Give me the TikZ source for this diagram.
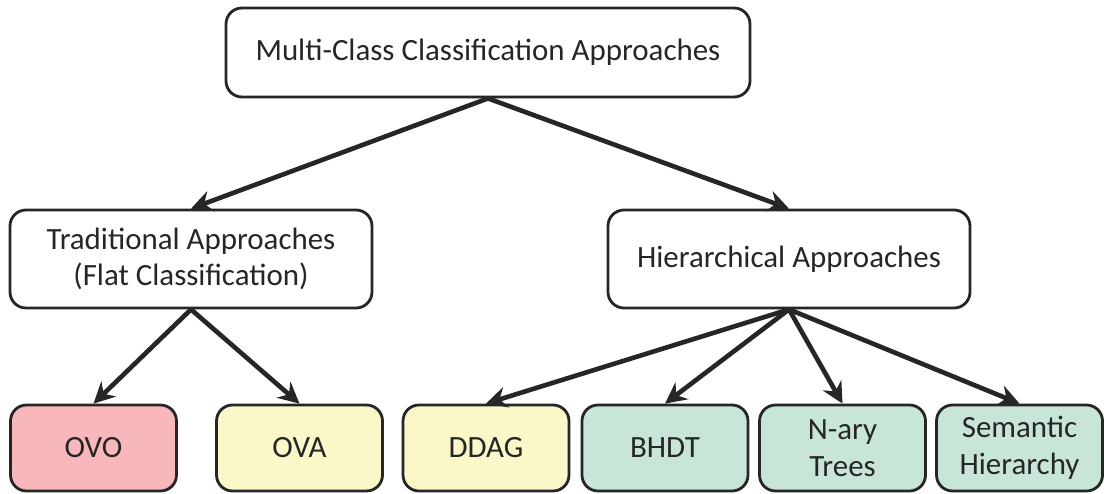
\documentclass[tikz,border=0pt]{standalone}
\usepackage{fontspec}
\setmainfont{Carlito}
\usetikzlibrary{arrows.meta, positioning}

\begin{document}
\begin{tikzpicture}[
    >={Stealth[length=15pt, width=15pt, inset=5pt]},
    box/.style={draw=black!85, line width=2pt, rounded corners=0.4cm,
                align=center, font=\fontsize{22}{26}\selectfont,
                text=black!85, fill=white, inner sep=2pt},
    upper/.style={box, minimum width=9.05cm, minimum height=2.45cm},
    leaf/.style={box, minimum width=4.15cm, minimum height=2.15cm},
    arr/.style={->, line width=3.3pt, draw=black!85},
]
% ---- Leaf colours by family ----
\definecolor{cpair}{HTML}{F8B8BB}   % one-vs-one
\definecolor{cflat}{HTML}{FAF7C8}   % one-vs-all / DAG
\definecolor{chier}{HTML}{C8E6D8}   % tree-based
\useasboundingbox (0,0) rectangle (27.6,-12.325);
% ---- Root and the two families ----
\node[box, minimum width=13.1cm, minimum height=2.225cm] (root) at (12.2, -1.3125)
    {Multi-Class Classification Approaches};
\node[upper] (trad) at (4.775, -6.475) {Traditional Approaches\\(Flat Classification)};
\node[upper] (hier) at (19.725, -6.475) {Hierarchical Approaches};
% ---- Leaves ----
\node[leaf, fill=cpair] (ovo)  at (2.3375, -11.2)  {OVO};
\node[leaf, fill=cflat] (ova)  at (7.4875, -11.2)  {OVA};
\node[leaf, fill=cflat] (ddag) at (12.15, -11.2)   {DDAG};
\node[leaf, fill=chier] (bhdt) at (16.625, -11.2)  {BHDT};
\node[leaf, fill=chier] (nary) at (21.0625, -11.2) {N-ary\\Trees};
\node[leaf, fill=chier] (sem)  at (25.4875, -11.2) {Semantic\\Hierarchy};

% ---- Arrows ----
\draw[arr] (root.south) -- (trad.north);
\draw[arr] (root.south) -- (hier.north);
\draw[arr] (trad.south) -- (ovo.north);
\draw[arr] (trad.south) -- (ova.north);
\draw[arr] (hier.south) -- (ddag.north);
\draw[arr] (hier.south) -- (bhdt.north);
\draw[arr] (hier.south) -- (nary.north);
\draw[arr] (hier.south) -- (sem.north);
\end{tikzpicture}
\end{document}
